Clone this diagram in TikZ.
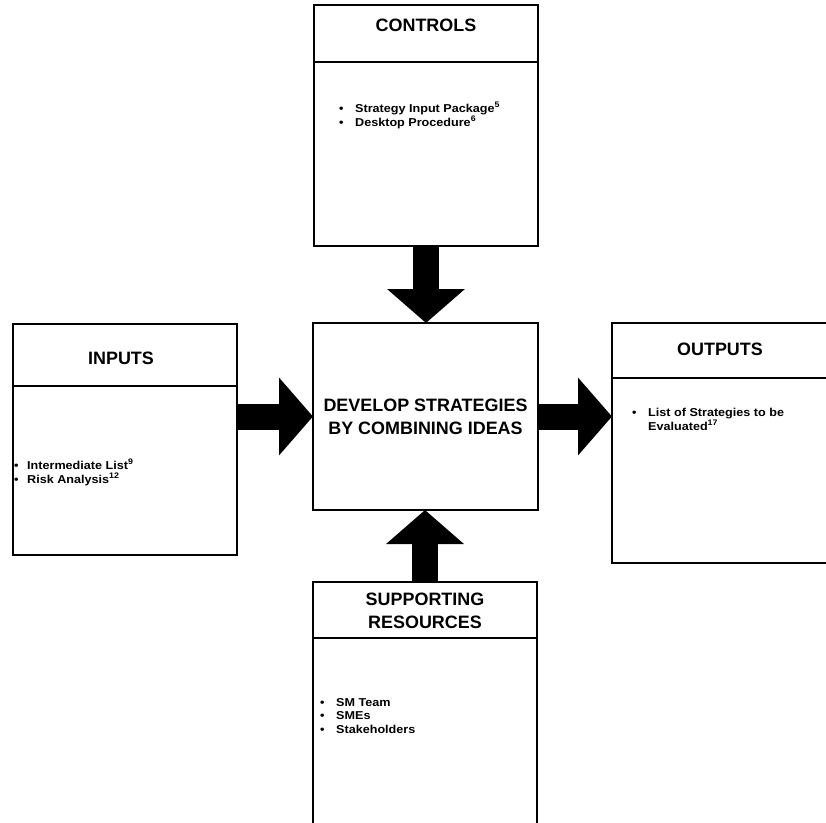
\documentclass[tikz,border=0pt]{standalone}
\usepackage{fontspec}
\setmainfont{Liberation Sans}
\newfontfamily\itemfont[FakeStretch=1.1]{Liberation Sans}
\usetikzlibrary{arrows.meta}

\tikzset{
  panel/.style={draw, line width=1.8bp, inner sep=0pt, outer sep=0pt, anchor=north west},
  divider/.style={line width=2.6bp},
  heading/.style={font=\bfseries\fontsize{18}{23}\selectfont, align=center, inner sep=0pt},
  itemlist/.style={font=\itemfont\bfseries\fontsize{11.5}{14}\selectfont, inner sep=0pt, anchor=base west},
  flow/.style={line width=26bp, -{Triangle[width=76bp,length=34bp]}},
}
% bulleted list: bullet column, then the item text
\newcommand{\blist}[2][16bp]{\begin{tabular}[t]{@{}p{#1}@{}l@{}}#2\end{tabular}}
\newcommand{\fnref}[1]{\textsuperscript{#1}}

\begin{document}
\begin{tikzpicture}[x=1bp,y=-1bp]
\useasboundingbox (0,0) rectangle (826,823);
\fill[white] (0,0) rectangle (826,823);
\clip (0,0) rectangle (826,823);

% Controls
\node[panel, minimum width=224bp, minimum height=57bp] (ctrlhead) at (314,5) {};
\node[panel, minimum width=224bp, minimum height=184bp] (ctrl) at (ctrlhead.south west) {};
\draw[divider] (ctrlhead.south west) -- (ctrlhead.south east);
\node[heading] (ctrltitle) at (426,25.5) {CONTROLS};
\node[itemlist] (ctrllist) at (339,112) {\blist{• & Strategy Input Package\fnref{5}\\ • & Desktop Procedure\fnref{6}}};

% Activity
\node[panel, minimum width=225bp, minimum height=187bp] (main) at (313,323) {};
\node[heading] (maintext) at (main.center) {DEVELOP STRATEGIES\\BY COMBINING IDEAS};

% Inputs
\node[panel, minimum width=224bp, minimum height=62bp] (inphead) at (13,324) {};
\node[panel, minimum width=224bp, minimum height=169bp] (inp) at (inphead.south west) {};
\draw[divider] (inphead.south west) -- (inphead.south east);
\node[heading] (inptitle) at (121,358) {INPUTS};
\node[itemlist] (inplist) at (14,469) {\blist[13bp]{• & Intermediate List\fnref{9}\\ • & Risk Analysis\fnref{12}}};

% Outputs
\node[panel, minimum width=240bp, minimum height=55bp] (outhead) at (612,323) {};
\node[panel, minimum width=240bp, minimum height=185bp] (out) at (outhead.south west) {};
\draw[divider] (outhead.south west) -- (outhead.south east);
\node[heading] (outtitle) at (720,349) {OUTPUTS};
\node[itemlist] (outlist) at (632,416) {\blist{• & List of Strategies to be\\ & Evaluated\fnref{17}}};

% Supporting resources
\node[panel, minimum width=224bp, minimum height=56bp] (supphead) at (313,582) {};
\node[panel, minimum width=224bp, minimum height=230bp] (supp) at (supphead.south west) {};
\draw[divider] (supphead.south west) -- (supphead.south east);
\node[heading] (supptitle) at (425,610.5) {SUPPORTING\\RESOURCES};
\node[itemlist] (supplist) at (320,706) {\blist{• & SM Team\\ • & SMEs\\ • & Stakeholders}};

% Block arrows into and out of the activity
\draw[flow] (ctrl.south) -- (ctrl.south |- main.north);
\draw[flow] (supphead.north) -- (supphead.north |- main.south);
\draw[flow] (inp.east |- main.center) -- (main.west);
\draw[flow] (main.east) -- (out.west |- main.center);
\end{tikzpicture}
\end{document}
